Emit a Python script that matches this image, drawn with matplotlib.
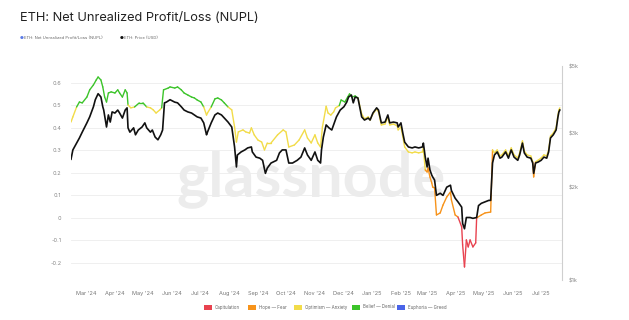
import matplotlib
matplotlib.use("Agg")
import matplotlib.pyplot as plt
import matplotlib.dates as mdates
from matplotlib.collections import LineCollection
from matplotlib.patches import Rectangle
import numpy as np
import pandas as pd

# ---------------- data ----------------
price_dates = ["2024-02-14","2024-02-16","2024-02-20","2024-02-23","2024-02-26","2024-03-02","2024-03-05","2024-03-09","2024-03-11","2024-03-14",
"2024-03-17","2024-03-19","2024-03-20","2024-03-23","2024-03-25","2024-03-27","2024-03-29","2024-04-01","2024-04-04","2024-04-06",
"2024-04-09","2024-04-12","2024-04-14","2024-04-15","2024-04-17","2024-04-21","2024-04-23","2024-04-26","2024-04-30","2024-05-03",
"2024-05-05","2024-05-09","2024-05-11","2024-05-14","2024-05-17","2024-05-20","2024-05-22","2024-05-24","2024-05-26","2024-05-30",
"2024-06-04","2024-06-07","2024-06-11","2024-06-14","2024-06-18","2024-06-22","2024-06-25","2024-06-28","2024-07-02","2024-07-05",
"2024-07-08","2024-07-09","2024-07-13","2024-07-17","2024-07-20","2024-07-24","2024-07-27","2024-07-31","2024-08-04","2024-08-07",
"2024-08-09","2024-08-10","2024-08-14","2024-08-18","2024-08-21","2024-08-25","2024-08-26","2024-08-30","2024-09-03","2024-09-06",
"2024-09-09","2024-09-11","2024-09-15","2024-09-21","2024-09-24","2024-09-27","2024-10-01","2024-10-04","2024-10-08","2024-10-13",
"2024-10-17","2024-10-21","2024-10-24","2024-10-28","2024-11-01","2024-11-04","2024-11-07","2024-11-08","2024-11-10","2024-11-13",
"2024-11-16","2024-11-19","2024-11-22","2024-11-24","2024-11-28","2024-12-02","2024-12-05","2024-12-07","2024-12-10","2024-12-12",
"2024-12-14","2024-12-17","2024-12-21","2024-12-24","2024-12-28","2024-12-30","2025-01-02","2025-01-06","2025-01-08","2025-01-11",
"2025-01-15","2025-01-18","2025-01-20","2025-01-24","2025-01-28","2025-01-29","2025-02-01","2025-02-03","2025-02-05","2025-02-09",
"2025-02-13","2025-02-16","2025-02-20","2025-02-24","2025-02-25","2025-02-27","2025-03-01","2025-03-02","2025-03-04","2025-03-06",
"2025-03-07","2025-03-09","2025-03-11","2025-03-15","2025-03-18","2025-03-22","2025-03-26","2025-03-27","2025-03-31","2025-04-03",
"2025-04-07","2025-04-08","2025-04-10","2025-04-12","2025-04-16","2025-04-19","2025-04-23","2025-04-25","2025-04-28","2025-05-02",
"2025-05-06","2025-05-08","2025-05-10","2025-05-12","2025-05-15","2025-05-18","2025-05-20","2025-05-24","2025-05-27","2025-05-30",
"2025-06-02","2025-06-06","2025-06-08","2025-06-11","2025-06-13","2025-06-16","2025-06-20","2025-06-22","2025-06-23","2025-06-25",
"2025-06-28","2025-07-01","2025-07-04","2025-07-07","2025-07-09","2025-07-11","2025-07-14","2025-07-17","2025-07-19","2025-07-20",
"2025-07-21"]
price_usd_k = [2.48,2.66,2.80,2.91,3.04,3.26,3.41,3.68,3.88,4.06,
3.96,3.68,3.59,3.16,3.46,3.28,3.54,3.51,3.59,3.51,
3.38,3.59,3.65,3.14,3.04,3.14,2.98,3.09,3.16,3.26,
3.14,3.04,3.09,2.93,2.87,2.98,3.09,3.79,3.81,3.88,
3.81,3.79,3.68,3.59,3.54,3.51,3.46,3.41,3.38,3.26,
2.98,3.04,3.26,3.46,3.51,3.46,3.38,3.28,3.16,2.72,
2.34,2.56,2.62,2.66,2.70,2.72,2.62,2.52,2.50,2.46,
2.23,2.32,2.41,2.46,2.60,2.66,2.66,2.41,2.41,2.46,
2.52,2.70,2.56,2.46,2.62,2.46,2.41,2.66,2.93,3.21,
3.14,3.09,3.28,3.41,3.59,3.68,3.81,3.96,4.02,3.79,
3.96,3.93,3.41,3.33,3.38,3.33,3.51,3.65,3.59,3.26,
3.28,3.46,3.26,3.28,3.26,3.16,3.26,3.02,2.82,2.72,
2.70,2.72,2.70,2.72,2.80,2.52,2.34,2.50,2.29,2.20,
2.17,2.12,1.89,1.92,1.89,2.01,2.04,1.96,1.85,1.80,
1.73,1.53,1.47,1.60,1.60,1.59,1.60,1.75,1.78,1.80,
1.82,1.82,2.41,2.56,2.62,2.50,2.52,2.62,2.50,2.66,
2.52,2.46,2.56,2.80,2.60,2.52,2.50,2.41,2.23,2.41,
2.43,2.46,2.52,2.50,2.62,2.91,2.98,3.09,3.41,3.54,
3.59]

nupl_dates = ["2024-02-14","2024-02-16","2024-02-20","2024-02-23","2024-02-26","2024-03-02","2024-03-05","2024-03-09","2024-03-12","2024-03-14",
"2024-03-17","2024-03-19","2024-03-21","2024-03-23","2024-03-25","2024-03-28","2024-04-01","2024-04-04","2024-04-06","2024-04-09",
"2024-04-12","2024-04-14","2024-04-15","2024-04-18","2024-04-22","2024-04-27","2024-05-01","2024-05-05","2024-05-09","2024-05-12",
"2024-05-15","2024-05-19","2024-05-21","2024-05-23","2024-05-28","2024-05-30","2024-06-04","2024-06-07","2024-06-11","2024-06-14",
"2024-06-18","2024-06-22","2024-06-25","2024-06-28","2024-07-02","2024-07-05","2024-07-08","2024-07-09","2024-07-13","2024-07-17",
"2024-07-20","2024-07-24","2024-07-27","2024-07-31","2024-08-04","2024-08-07","2024-08-09","2024-08-11","2024-08-16","2024-08-19",
"2024-08-23","2024-08-25","2024-08-28","2024-09-01","2024-09-05","2024-09-08","2024-09-11","2024-09-15","2024-09-22","2024-09-28",
"2024-10-01","2024-10-04","2024-10-10","2024-10-15","2024-10-21","2024-10-24","2024-10-28","2024-11-01","2024-11-04","2024-11-07",
"2024-11-09","2024-11-13","2024-11-15","2024-11-18","2024-11-21","2024-11-23","2024-11-27","2024-11-29","2024-12-03","2024-12-06",
"2024-12-08","2024-12-11","2024-12-14","2024-12-17","2024-12-21","2024-12-24","2024-12-28","2024-12-30","2025-01-02","2025-01-06",
"2025-01-08","2025-01-11","2025-01-15","2025-01-18","2025-01-20","2025-01-24","2025-01-28","2025-01-29","2025-02-01","2025-02-03",
"2025-02-05","2025-02-09","2025-02-13","2025-02-16","2025-02-20","2025-02-24","2025-02-25","2025-02-27","2025-03-01","2025-03-02",
"2025-03-04","2025-03-06","2025-03-07","2025-03-09","2025-03-11","2025-03-15","2025-03-18","2025-03-22","2025-03-26","2025-03-27",
"2025-03-31","2025-04-03","2025-04-07","2025-04-08","2025-04-10","2025-04-12","2025-04-14","2025-04-16","2025-04-19","2025-04-22",
"2025-04-23","2025-04-28","2025-05-02","2025-05-08","2025-05-10","2025-05-12","2025-05-15","2025-05-18","2025-05-20","2025-05-24",
"2025-05-27","2025-05-30","2025-06-02","2025-06-06","2025-06-08","2025-06-11","2025-06-13","2025-06-16","2025-06-20","2025-06-22",
"2025-06-23","2025-06-25","2025-06-28","2025-07-01","2025-07-04","2025-07-07","2025-07-09","2025-07-11","2025-07-14","2025-07-17",
"2025-07-19","2025-07-20","2025-07-21"]
nupl_values = [0.425,0.448,0.492,0.514,0.510,0.536,0.568,0.590,0.612,0.625,
0.612,0.581,0.536,0.514,0.554,0.559,0.554,0.568,0.554,0.536,
0.568,0.554,0.501,0.488,0.492,0.510,0.510,0.492,0.488,0.479,
0.465,0.479,0.488,0.568,0.576,0.581,0.576,0.581,0.568,0.554,
0.545,0.536,0.532,0.523,0.514,0.492,0.456,0.465,0.492,0.528,
0.532,0.523,0.510,0.492,0.479,0.403,0.336,0.381,0.390,0.381,
0.376,0.399,0.368,0.345,0.336,0.301,0.332,0.332,0.368,0.390,
0.381,0.314,0.323,0.345,0.390,0.354,0.332,0.368,0.332,0.314,
0.403,0.495,0.465,0.456,0.470,0.488,0.498,0.523,0.514,0.536,
0.550,0.536,0.541,0.532,0.461,0.439,0.448,0.434,0.461,0.483,
0.470,0.412,0.416,0.448,0.412,0.416,0.408,0.390,0.403,0.359,
0.314,0.292,0.288,0.292,0.288,0.292,0.310,0.212,0.203,0.221,
0.181,0.154,0.136,0.132,0.012,0.021,0.056,0.092,0.114,0.079,
0.012,0.003,-0.041,-0.121,-0.219,-0.099,-0.130,-0.099,-0.130,-0.112,
-0.001,0.012,0.021,0.025,0.301,0.288,0.301,0.274,0.279,0.301,
0.274,0.310,0.279,0.265,0.288,0.341,0.296,0.279,0.274,0.248,
0.181,0.248,0.256,0.265,0.279,0.274,0.301,0.363,0.376,0.399,
0.456,0.479,0.488]

zone_labels = ["Capitulation", "Hope \u2014 Fear", "Optimism \u2014 Anxiety", "Belief \u2014 Denial", "Euphoria \u2014 Greed"]
zone_bounds = [-10, 0.0, 0.25, 0.5, 0.75, 10]
zone_colors = ["#e8424f", "#f7931a", "#f2dc49", "#3cc42a", "#4a64e8"]

nupl_ticks = [-0.2, -0.1, 0, 0.1, 0.2, 0.3, 0.4, 0.5, 0.6]
nupl_ticklabels = ["-0.2", "-0.1", "0", "0.1", "0.2", "0.3", "0.4", "0.5", "0.6"]
price_ticks = [1000, 2000, 3000, 5000]
price_ticklabels = ["$1k", "$2k", "$3k", "$5k"]

title = "ETH: Net Unrealized Profit/Loss (NUPL)"
legend_nupl = "ETH: Net Unrealized Profit/Loss (NUPL)"
legend_price = "ETH: Price (USD)"

# ---------------- figure ----------------
FONT = ["Inter", "DejaVu Sans"]
plt.rcParams["font.family"] = FONT
W, H = 629, 320
fig = plt.figure(figsize=(W / 100, H / 100), dpi=100)
fig.patch.set_facecolor("white")

L, R, T, B = 71, 561.7, 66, 280
ax = fig.add_axes([L / W, 1 - B / H, (R - L) / W, (B - T) / H])
ax2 = ax.twinx()

pd_dates = mdates.date2num(pd.to_datetime(price_dates))
nd_dates = mdates.date2num(pd.to_datetime(nupl_dates))
nv = np.array(nupl_values)
pv = np.array(price_usd_k) * 1000

# NUPL coloured line
pts = np.column_stack([nd_dates, nv])
segs = np.stack([pts[:-1], pts[1:]], axis=1)
mids = (nv[:-1] + nv[1:]) / 2
cols = [zone_colors[np.searchsorted(zone_bounds, m, side="right") - 1] for m in mids]
lc = LineCollection(segs, colors=cols, linewidths=1.0, capstyle="round", joinstyle="round", zorder=3)
ax.add_collection(lc)

ax.set_ylim(-0.277, 0.674)
ax.set_xlim(mdates.date2num(pd.Timestamp("2024-02-14")), mdates.date2num(pd.Timestamp("2025-07-23")))
ax.set_yticks(nupl_ticks)
ax.set_yticklabels(nupl_ticklabels)
ax.grid(axis="y", color="#ececec", lw=0.6, zorder=0)
ax.set_axisbelow(True)

months = pd.date_range("2024-03-01", "2025-07-01", freq="MS")
ax.set_xticks(mdates.date2num(months))
ax.set_xticklabels([m.strftime("%b '%y") for m in months])
ax.tick_params(axis="x", length=0, pad=8, labelsize=4.0, labelcolor="#777777")
ax.tick_params(axis="y", length=0, pad=7, labelsize=4.0, labelcolor="#888888")
for s in ax.spines.values():
    s.set_visible(False)

# watermark
ax.text(0.49, 0.39, "glassnode", transform=ax.transAxes, ha="center", va="baseline",
        fontsize=44, color="#ececec", fontweight="bold", family=["Lato", "DejaVu Sans"], zorder=1)

# price
ax2.set_yscale("log")
ax2.plot(pd_dates, pv, color="#111111", lw=1.2, zorder=4, solid_joinstyle="round")
ax2.set_ylim(1000, 5000)
ax2.set_yticks(price_ticks)
ax2.set_yticklabels(price_ticklabels)
ax2.yaxis.set_minor_locator(matplotlib.ticker.NullLocator())
ax2.tick_params(axis="y", length=0, pad=5, labelsize=4.0, labelcolor="#888888")
for k, s in ax2.spines.items():
    s.set_visible(k == "right")
ax2.spines["right"].set_color("#cfcfcf")
ax2.spines["right"].set_linewidth(0.8)

# title
fig.text(20 / W, 1 - 18 / H, title, ha="left", va="center", fontsize=9.2, color="#222222")

# top legend
fig.text(20 / W, 1 - 38 / H, "\u25CF", ha="left", va="center", fontsize=3.2, color="#5b7be6", family="DejaVu Sans")
fig.text(24 / W, 1 - 38 / H, legend_nupl, ha="left", va="center", fontsize=3.0, color="#666666")
fig.text(120 / W, 1 - 38 / H, "\u25CF", ha="left", va="center", fontsize=3.2, color="#111111", family="DejaVu Sans")
fig.text(124 / W, 1 - 38 / H, legend_price, ha="left", va="center", fontsize=3.0, color="#666666")

# bottom legend
leg_x = [204, 248, 294, 352, 397]
ly = 307
for x0, lab, c in zip(leg_x, zone_labels, zone_colors):
    fig.add_artist(Rectangle((x0 / W, 1 - (ly + 2.5) / H), 8 / W, 5 / H, transform=fig.transFigure,
                             facecolor=c, edgecolor="none"))
    fig.text((x0 + 11) / W, 1 - ly / H, lab, ha="left", va="center", fontsize=3.2, color="#666666")

fig.savefig("out.png", dpi=100, facecolor="white")
